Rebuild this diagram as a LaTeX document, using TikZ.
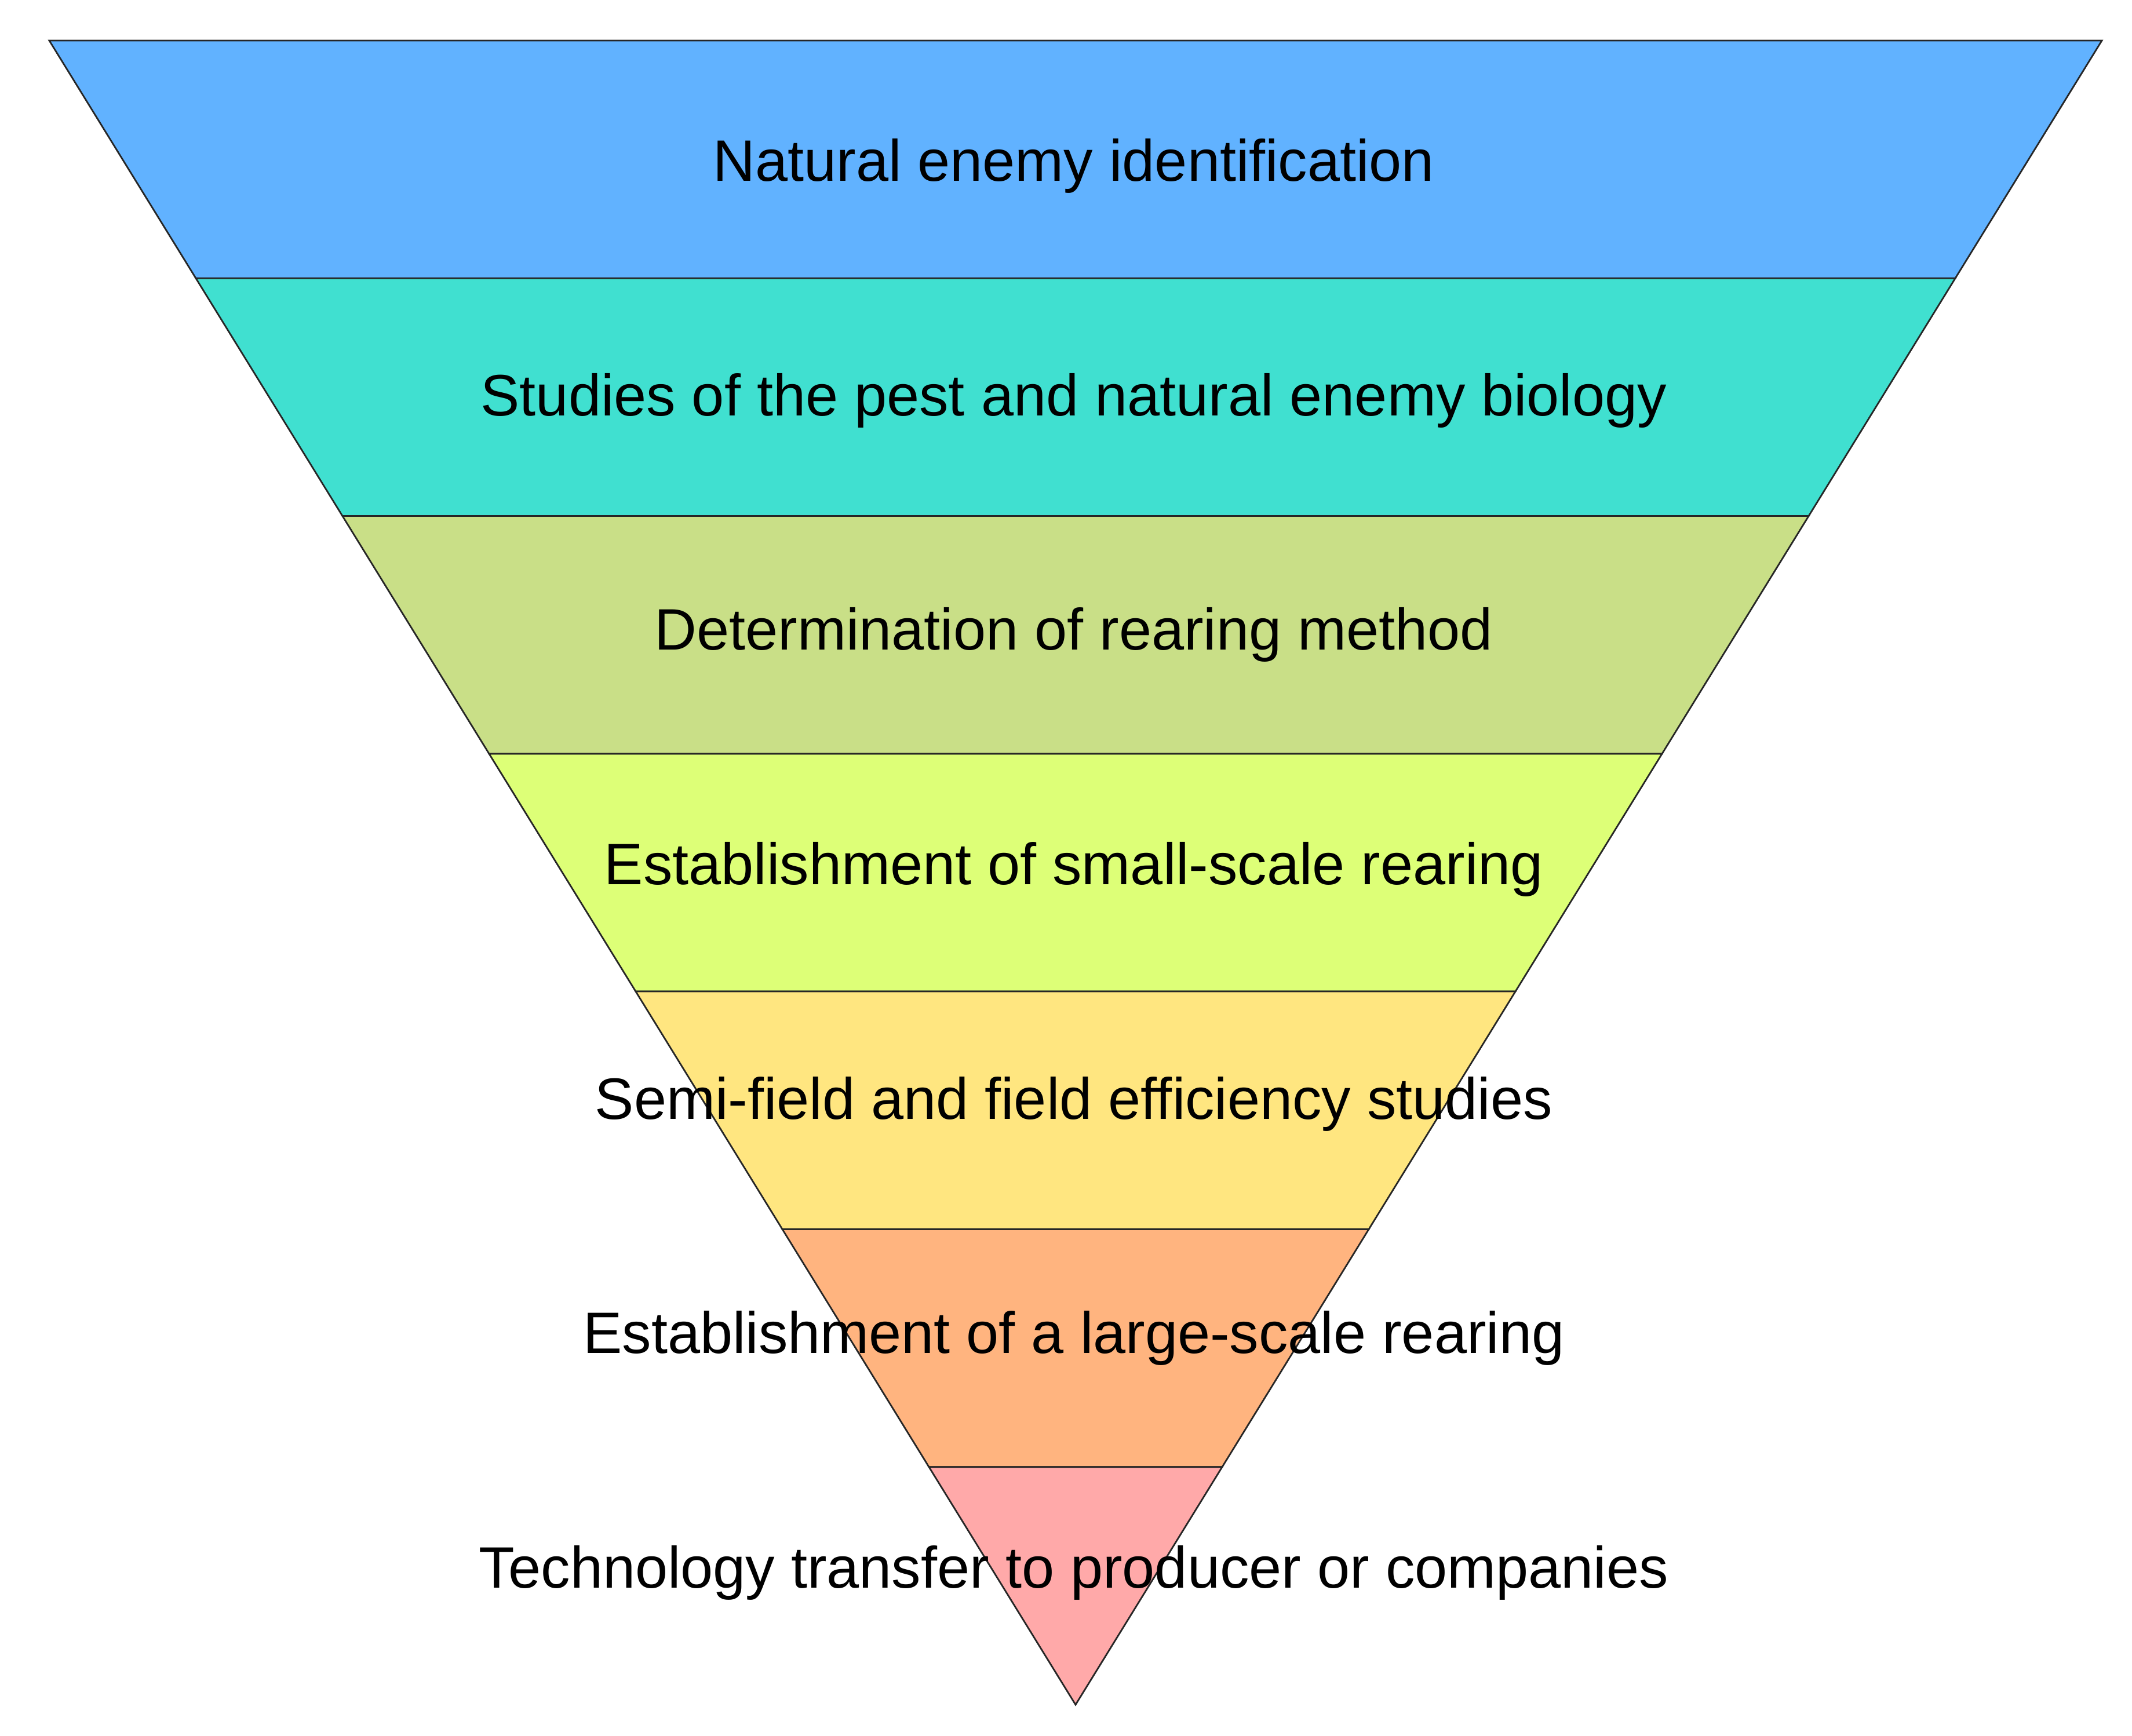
\documentclass[tikz,border=0pt]{standalone}
\usepackage{fontspec}
\setmainfont{Liberation Sans}
\usepackage{tikz}
\usetikzlibrary{positioning, calc}
\usepackage{xcolor}
\definecolor{xblue}{HTML}{61B2FF}
\definecolor{xteal}{HTML}{40E0D0}
\definecolor{xolive}{HTML}{C9DF87}
\definecolor{xlime}{HTML}{DDFF77}
\definecolor{xyellow}{HTML}{FFE680}
\definecolor{xorange}{HTML}{FFB47F}
\definecolor{xpink}{HTML}{FFA9A9}
\tikzset{
	band/.style={draw=black!85, line width=0.8pt, line join=miter},
	stage/.style={anchor=base, inner sep=0pt, font=\fontsize{28.7}{34}\selectfont},
}

\begin{document}
\begin{tikzpicture}
			\useasboundingbox (0,0) rectangle (36.79,29.96);
			% bands, top to bottom
			\draw[band, fill=xblue]   (0.85,29.26)  -- (36.27,29.26)  -- (33.74,25.157) -- (3.38,25.157)  -- cycle;
			\draw[band, fill=xteal]   (3.38,25.157) -- (33.74,25.157) -- (31.21,21.054) -- (5.91,21.054)  -- cycle;
			\draw[band, fill=xolive]  (5.91,21.054) -- (31.21,21.054) -- (28.68,16.951) -- (8.44,16.951)  -- cycle;
			\draw[band, fill=xlime]   (8.44,16.951) -- (28.68,16.951) -- (26.15,12.849) -- (10.97,12.849) -- cycle;
			\draw[band, fill=xyellow] (10.97,12.849) -- (26.15,12.849) -- (23.62,8.746) -- (13.50,8.746)  -- cycle;
			\draw[band, fill=xorange] (13.50,8.746) -- (23.62,8.746)  -- (21.09,4.643)  -- (16.03,4.643)  -- cycle;
			\draw[band, fill=xpink]   (16.03,4.643) -- (21.09,4.643)  -- (18.56,0.54)   -- cycle;

			% labels
			\node[stage] (identification) at (18.53,26.83) {Natural enemy identification};
			\node[stage] (biology)        at (18.53,22.78) {Studies of the pest and natural enemy biology};
			\node[stage] (method)         at (18.53,18.74) {Determination of rearing method};
			\node[stage] (smallscale)     at (18.53,14.69) {Establishment of small-scale rearing};
			\node[stage] (efficiency)     at (18.53,10.64) {Semi-field and field efficiency studies};
			\node[stage] (largescale)     at (18.53,6.60)  {Establishment of a large-scale rearing};
			\node[stage] (transfer)       at (18.53,2.55)  {Technology transfer to producer or companies};
		\end{tikzpicture}
\end{document}
